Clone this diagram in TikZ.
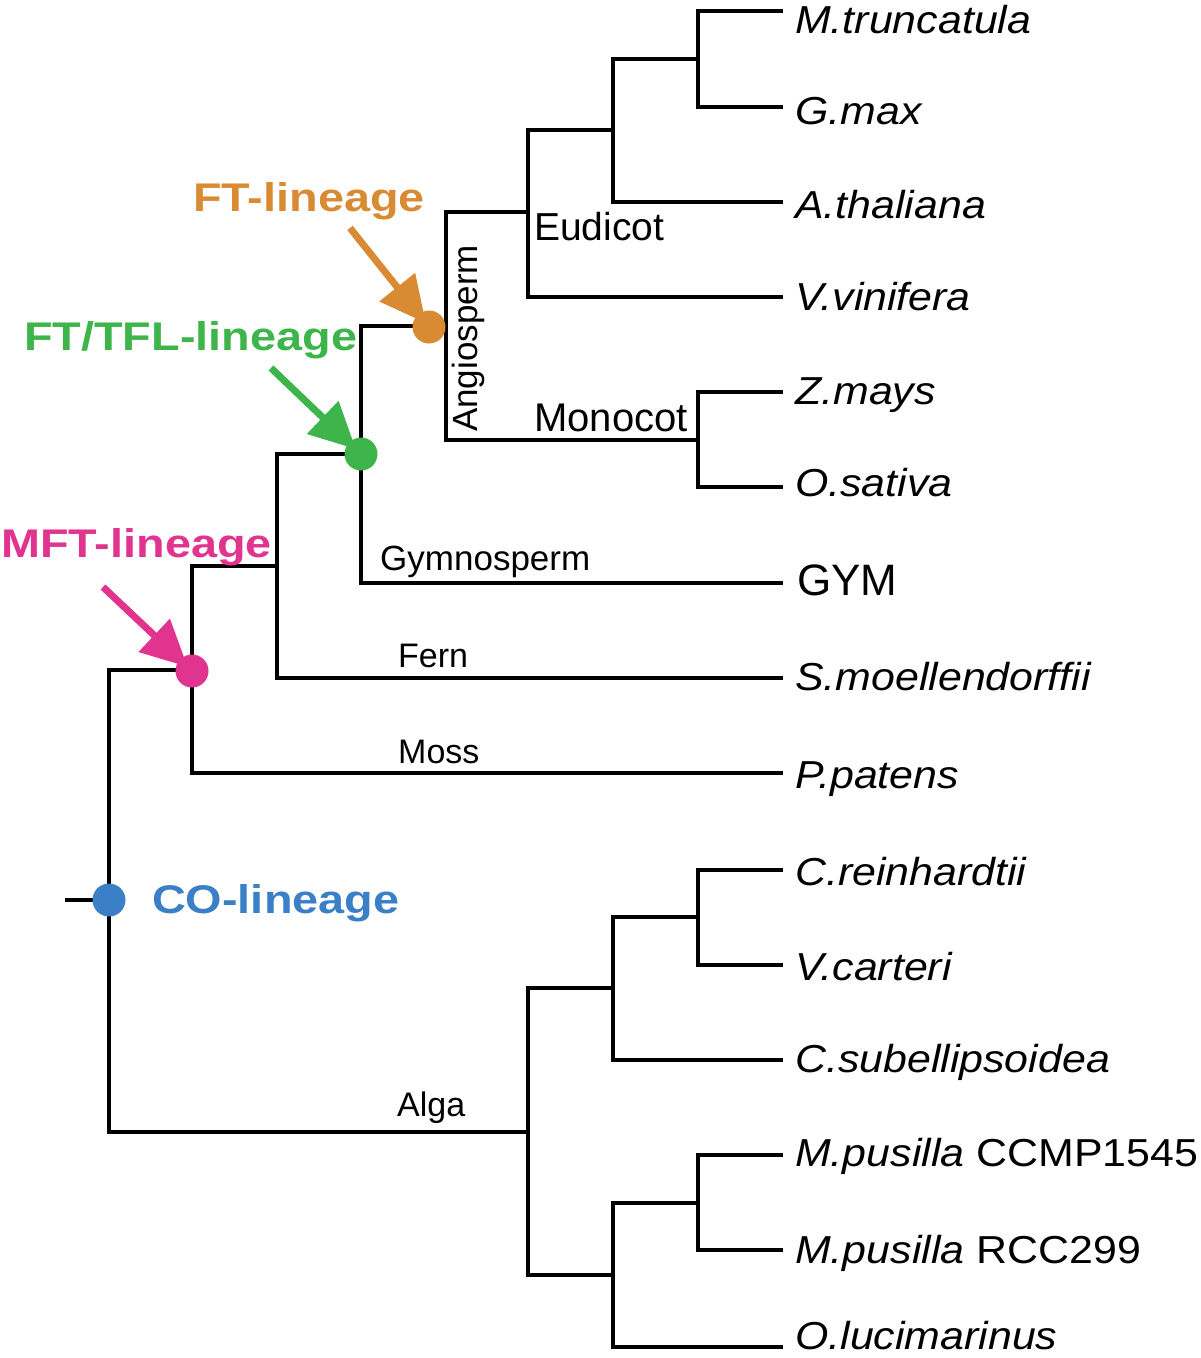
\documentclass[tikz,border=0pt]{standalone}
\usepackage{fontspec}
\setmainfont{Liberation Sans}
\newfontfamily\spfont[FakeStretch=1.1]{Liberation Sans}
\newfontfamily\linfont[FakeStretch=1.17]{Liberation Sans}
\usetikzlibrary{arrows.meta}
\definecolor{cOr}{RGB}{217,139,52}
\definecolor{cGr}{RGB}{61,181,74}
\definecolor{cMg}{RGB}{224,52,143}
\definecolor{cBl}{RGB}{59,128,199}
\begin{document}
\begin{tikzpicture}[x=1pt,y=-1pt,
  br/.style={line width=4pt, line join=miter, line cap=butt, black},
  sp/.style={anchor=base west, inner sep=0pt, font=\spfont\itshape\fontsize{39}{39}\selectfont},
  rm/.style={anchor=base west, inner sep=0pt, font=\fontsize{#1}{#1}\selectfont},
  lin/.style={anchor=base west, inner sep=0pt, text=#1, font=\linfont\bfseries\fontsize{40}{40}\selectfont},
  dot/.style={circle, fill=#1, inner sep=0pt, minimum size=33pt},
  arr/.style={draw=#1, line width=7pt, -{Triangle[length=46pt,width=44pt]}}
]
\fill[white] (0,0) rectangle (1200,1358);
\useasboundingbox (0,0) rectangle (1200,1358);

% internal nodes
\coordinate (stub) at (65,900);
\coordinate (root) at (109,900);
\coordinate (mft) at (192,670);
\coordinate (alga) at (528,1132);
\coordinate (n277) at (277,566);
\coordinate (ftl) at (361,454);
\coordinate (ang) at (446,326);
\coordinate (eud) at (528,212);
\coordinate (mono) at (698,440);
\coordinate (n613) at (613,130);
\coordinate (n698) at (698,59);
\coordinate (c1) at (613,988);
\coordinate (c3) at (698,917);
\coordinate (c2) at (613,1275);
\coordinate (c4) at (698,1203);

% leaf ends
\coordinate (l1) at (783,11);
\coordinate (l2) at (783,107);
\coordinate (l3) at (783,202);
\coordinate (l4) at (783,297);
\coordinate (l5) at (783,392);
\coordinate (l6) at (783,487);
\coordinate (l7) at (783,583);
\coordinate (l8) at (783,678);
\coordinate (l9) at (783,773);
\coordinate (l10) at (783,870);
\coordinate (l11) at (783,965);
\coordinate (l12) at (783,1060);
\coordinate (l13) at (783,1155);
\coordinate (l14) at (783,1250);
\coordinate (l15) at (783,1347);

% branches
\draw[br] (stub) -- (root);
\draw[br] (root) |- (mft);
\draw[br] (root) |- (alga);
\draw[br] (mft) |- (n277);
\draw[br] (mft) |- (l9);
\draw[br] (n277) |- (ftl);
\draw[br] (n277) |- (l8);
\draw[br] (ftl) |- (ang);
\draw[br] (ftl) |- (l7);
\draw[br] (ang) |- (eud);
\draw[br] (ang) |- (mono);
\draw[br] (eud) |- (n613);
\draw[br] (eud) |- (l4);
\draw[br] (n613) |- (n698);
\draw[br] (n613) |- (l3);
\draw[br] (n698) |- (l1);
\draw[br] (n698) |- (l2);
\draw[br] (mono) |- (l5);
\draw[br] (mono) |- (l6);
\draw[br] (alga) |- (c1);
\draw[br] (alga) |- (c2);
\draw[br] (c1) |- (c3);
\draw[br] (c1) |- (l12);
\draw[br] (c3) |- (l10);
\draw[br] (c3) |- (l11);
\draw[br] (c2) |- (c4);
\draw[br] (c2) |- (l15);
\draw[br] (c4) |- (l13);
\draw[br] (c4) |- (l14);

% dots
\node[dot=cOr] (dOr) at (429,327) {};
\node[dot=cGr] (dGr) at (361,454) {};
\node[dot=cMg] (dMg) at (192,671) {};
\node[dot=cBl] (dBl) at (109,900) {};

% arrows
\coordinate (aOr) at (350,228);
\coordinate (aGr) at (271,368);
\coordinate (aMg) at (103,587);
\draw[arr=cOr, shorten >=5pt] (aOr) -- (dOr.center);
\draw[arr=cGr, shorten >=7pt] (aGr) -- (dGr.center);
\draw[arr=cMg, shorten >=6pt] (aMg) -- (dMg.center);

% lineage labels
\node[lin=cOr] (tOr) at (193,211) {FT-lineage};
\node[lin=cGr] (tGr) at (24,350) {FT/TFL-lineage};
\node[lin=cMg] (tMg) at (1,557) {MFT-lineage};
\node[lin=cBl] (tBl) at (152,913) {CO-lineage};

% clade labels
\node[rm=39] (eudT) at (534,240) {Eudicot};
\node[rm=40] (monoT) at (534,431) {Monocot};
\node[rm=35, rotate=90] (angT) at (477,432) {Angiosperm};
\node[rm=35] (gymT) at (380,570) {Gymnosperm};
\node[rm=34] (fernT) at (398,667) {Fern};
\node[rm=34] (mossT) at (398,763) {Moss};
\node[rm=34] (algaT) at (397,1116) {Alga};

% species
\node[sp] (s1) at (795,33) {M.truncatula};
\node[sp] (s2) at (795,124) {G.max};
\node[sp] (s3) at (795,218) {A.thaliana};
\node[sp] (s4) at (795,310) {V.vinifera};
\node[sp] (s5) at (795,404) {Z.mays};
\node[sp] (s6) at (795,496) {O.sativa};
\node[rm=44] (s7) at (797,595) {GYM};
\node[sp] (s8) at (795,690) {S.moellendorffii};
\node[sp] (s9) at (795,788) {P.patens};
\node[sp] (s10) at (795,885) {C.reinhardtii};
\node[sp] (s11) at (795,980) {V.carteri};
\node[sp] (s12) at (795,1072) {C.subellipsoidea};
\node[sp] (s13) at (795,1166) {M.pusilla {\upshape CCMP1545}};
\node[sp] (s14) at (795,1263) {M.pusilla {\upshape RCC299}};
\node[sp] (s15) at (795,1349) {O.lucimarinus};
\end{tikzpicture}
\end{document}
